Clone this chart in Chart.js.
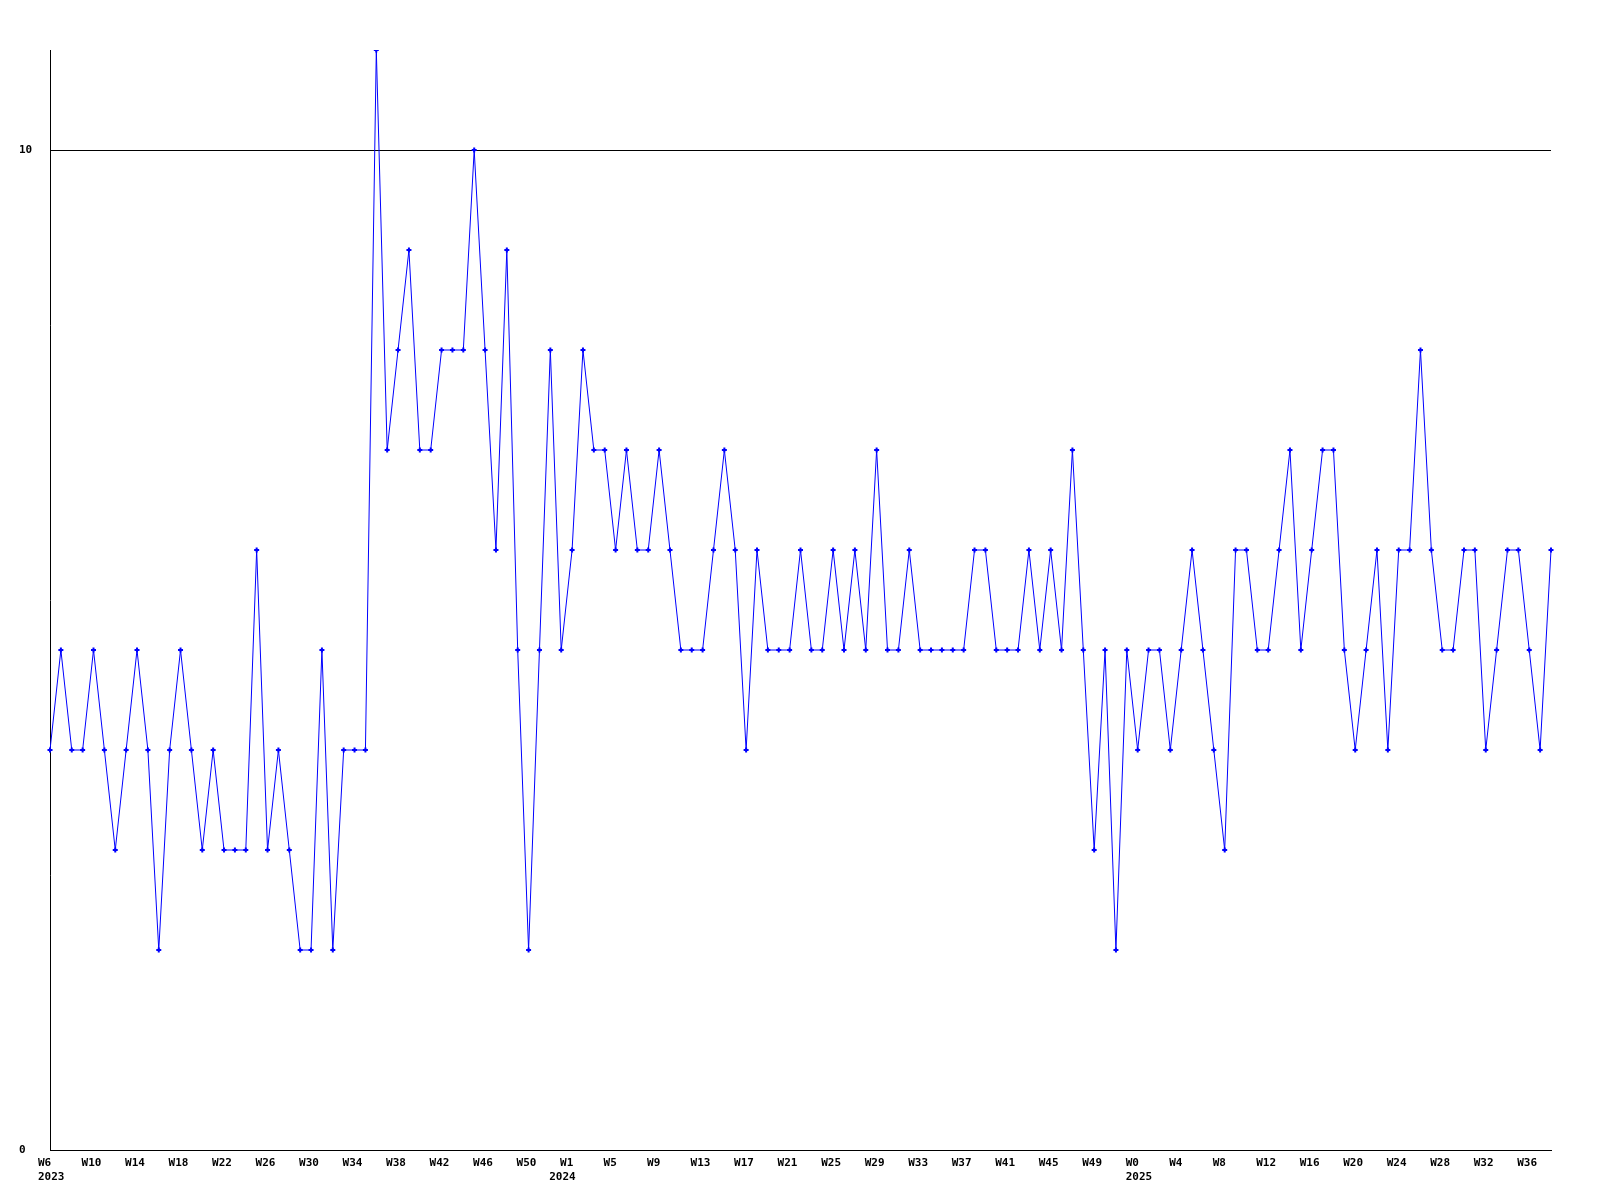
<!DOCTYPE html>
<html>
<head>
<meta charset="utf-8">
<script src="https://cdn.jsdelivr.net/npm/chart.js"></script>
<style>
  body { margin: 0; background: #fff; }
  canvas { display: block; }
</style>
</head>
<body>
<canvas id="chart" width="1600" height="1200"></canvas>
<script>
// weeks covered by the series, per year
const years = [2023, 2024, 2025];
const firstWeek = [6, 0, 0];
const lastWeek = [52, 52, 38];

// weekly counts, one per week from W6 2023
const values = [
  4, 5, 4, 4, 5, 4, 3, 4, 5, 4,
  2, 4, 5, 4, 3, 4, 3, 3, 3, 6,
  3, 4, 3, 2, 2, 5, 2, 4, 4, 4,
  11, 7, 8, 9, 7, 7, 8, 8, 8, 10,
  8, 6, 9, 5, 2, 5, 8, 5, 6, 8,
  7, 7, 6, 7, 6, 6, 7, 6, 5, 5,
  5, 6, 7, 6, 4, 6, 5, 5, 5, 6,
  5, 5, 6, 5, 6, 5, 7, 5, 5, 6,
  5, 5, 5, 5, 5, 6, 6, 5, 5, 5,
  6, 5, 6, 5, 7, 5, 3, 5, 2, 5,
  4, 5, 5, 4, 5, 6, 5, 4, 3, 6,
  6, 5, 5, 6, 7, 5, 6, 7, 7, 5,
  4, 5, 6, 4, 6, 6, 8, 6, 5, 5,
  6, 6, 4, 5, 6, 6, 5, 4, 6
];

const yTicks = [0, 10];
const labelEvery = 4;

// build the week / year labels
const weekNames = [];
const yearStart = [];
years.forEach((y, i) => {
  for (let w = firstWeek[i]; w <= lastWeek[i]; w++) {
    weekNames.push('W' + w);
    yearStart.push(w === firstWeek[i] ? String(y) : '');
  }
});

const font = { family: '"DejaVu Sans Mono", monospace', size: 11, weight: 'bold', lineHeight: '14px' };

new Chart(document.getElementById('chart').getContext('2d'), {
  type: 'line',
  data: {
    labels: weekNames,
    datasets: [{
      data: values,
      borderColor: '#0000ff',
      backgroundColor: '#0000ff',
      borderWidth: 1,
      tension: 0,
      pointStyle: 'cross',
      pointRadius: 2.5,
      pointBorderWidth: 2,
      pointBorderColor: '#0000ff'
    }]
  },
  options: {
    responsive: false,
    animation: false,
    layout: { padding: { top: 50, left: 19, right: 49, bottom: 0 } },
    plugins: { legend: { display: false }, tooltip: { enabled: false } },
    scales: {
      x: {
        grid: { display: false, drawTicks: false },
        border: { display: true, color: '#000', width: 1 },
        afterFit: s => { s.height = 50; },
        ticks: {
          autoSkip: false,
          maxRotation: 0,
          align: 'start',
          labelOffset: -12,
          padding: 6,
          color: '#000',
          font: font,
          callback: (v, i) => {
            const wk = i % labelEvery === 0 ? weekNames[i] : '';
            if (yearStart[i]) return [wk, yearStart[i]];
            return wk;
          }
        }
      },
      y: {
        min: 0,
        max: 11,
        afterBuildTicks: s => { s.ticks = yTicks.map(v => ({ value: v })); },
        afterFit: s => { s.width = 31; },
        grid: { color: '#000', lineWidth: 1, drawTicks: false },
        border: { display: true, color: '#000', width: 1 },
        ticks: {
          crossAlign: 'far',
          color: '#000',
          font: font,
          callback: v => String(v)
        }
      }
    }
  }
});
</script>
</body>
</html>
